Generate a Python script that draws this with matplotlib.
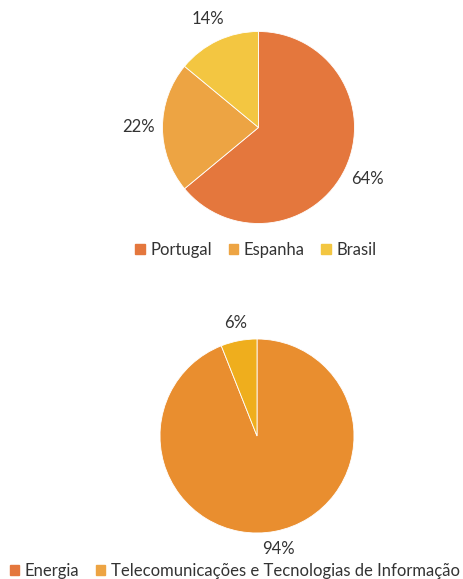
import matplotlib

matplotlib.use("Agg")
import matplotlib.pyplot as plt
from matplotlib.patches import Patch

plt.rcParams["font.family"] = ["Lato", "DejaVu Sans"]

countries = ["Portugal", "Espanha", "Brasil"]
country_share = [64, 22, 14]
country_colors = ["#E4773D", "#EDA443", "#F3C641"]

sectors = ["Energia", "Telecomunicações e Tecnologias de Informação"]
sector_share = [94, 6]
sector_colors = ["#E98E2F", "#EFAE1D"]
sector_legend_colors = ["#E4773D", "#EDA443"]

TEXT = "#333333"
FS = 12
W, H = 464, 579


def px_axes(fig, cx, cy, r):
    """Square axes centred on pixel (cx, cy) with half-size r pixels."""
    return fig.add_axes([(cx - r) / W, (H - cy - r) / H, 2 * r / W, 2 * r / H])


def draw_pie(ax, values, colors, pctdist):
    wedges, _, autotexts = ax.pie(values, colors=colors, startangle=90, counterclock=False,
                                  autopct="%d%%", pctdistance=pctdist,
                                  wedgeprops=dict(linewidth=0.6, edgecolor="white"),
                                  textprops=dict(color=TEXT, fontsize=FS))
    ax.set_xlim(-1, 1)
    ax.set_ylim(-1, 1)
    ax.set_aspect("equal")
    return autotexts


fig = plt.figure(figsize=(W / 100, H / 100), dpi=100)

ax1 = px_axes(fig, 258.5, 127.5, 96)
draw_pie(ax1, country_share, country_colors, 1.25)
fig.legend([Patch(color=c) for c in country_colors], countries, loc="center",
           bbox_to_anchor=(256 / W, 1 - 250 / H), ncol=3, frameon=False,
           handlelength=0.55, handleheight=0.55, handletextpad=0.35, columnspacing=1.0,
           prop=dict(size=FS), labelcolor=TEXT)

ax2 = px_axes(fig, 257, 436, 97)
pct2 = draw_pie(ax2, sector_share, sector_colors, 1.19)
fig.legend([Patch(color=c) for c in sector_legend_colors], sectors, loc="center",
           bbox_to_anchor=(235 / W, 1 - 571 / H), ncol=2, frameon=False,
           handlelength=0.55, handleheight=0.55, handletextpad=0.35, columnspacing=1.0,
           prop=dict(size=FS), labelcolor=TEXT)

fig.savefig("out.png", dpi=100)
